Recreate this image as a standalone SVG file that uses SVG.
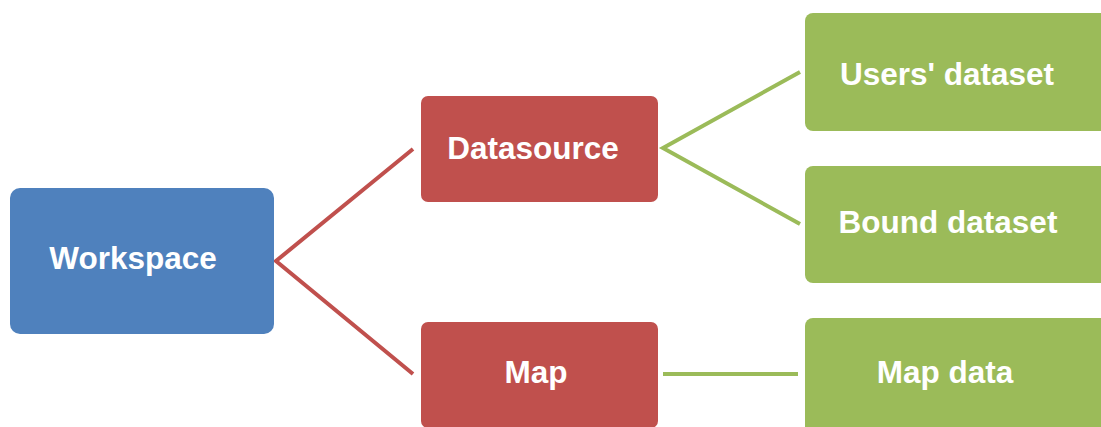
<svg xmlns="http://www.w3.org/2000/svg" width="1101" height="427" viewBox="0 0 1101 427">
<style>
.lbl{font-family:"Liberation Sans",Arial,sans-serif;font-weight:bold;font-size:31.5px;fill:#ffffff;text-anchor:middle}
.red{stroke:#C0504D;stroke-width:4;fill:none}
.grn{stroke:#9BBB59;stroke-width:4;fill:none}
</style>
<rect width="1101" height="427" fill="#ffffff"/>
<g id="connectors">
<path class="red" d="M413,149 L276,261 L413,374"/>
<path class="grn" d="M800,72 L663,148 L800,224"/>
<path class="grn" d="M663,374 L798,374"/>
</g>
<g id="workspace">
<rect x="10" y="188" width="264" height="146" rx="10" fill="#4F81BD"/>
<text class="lbl" x="133" y="269">Workspace</text>
</g>
<g id="datasource">
<rect x="421" y="96" width="237" height="106" rx="7" fill="#C0504D"/>
<text class="lbl" x="533" y="159">Datasource</text>
</g>
<g id="map">
<rect x="421" y="322" width="237" height="106" rx="7" fill="#C0504D"/>
<text class="lbl" x="536" y="383">Map</text>
</g>
<g id="users-dataset">
<rect x="805" y="13" width="310" height="118" rx="8" fill="#9BBB59"/>
<text class="lbl" x="947" y="85">Users' dataset</text>
</g>
<g id="bound-dataset">
<rect x="805" y="166" width="310" height="117" rx="8" fill="#9BBB59"/>
<text class="lbl" x="948" y="233">Bound dataset</text>
</g>
<g id="map-data">
<rect x="805" y="318" width="310" height="120" rx="8" fill="#9BBB59"/>
<text class="lbl" x="945" y="383">Map data</text>
</g>
</svg>
